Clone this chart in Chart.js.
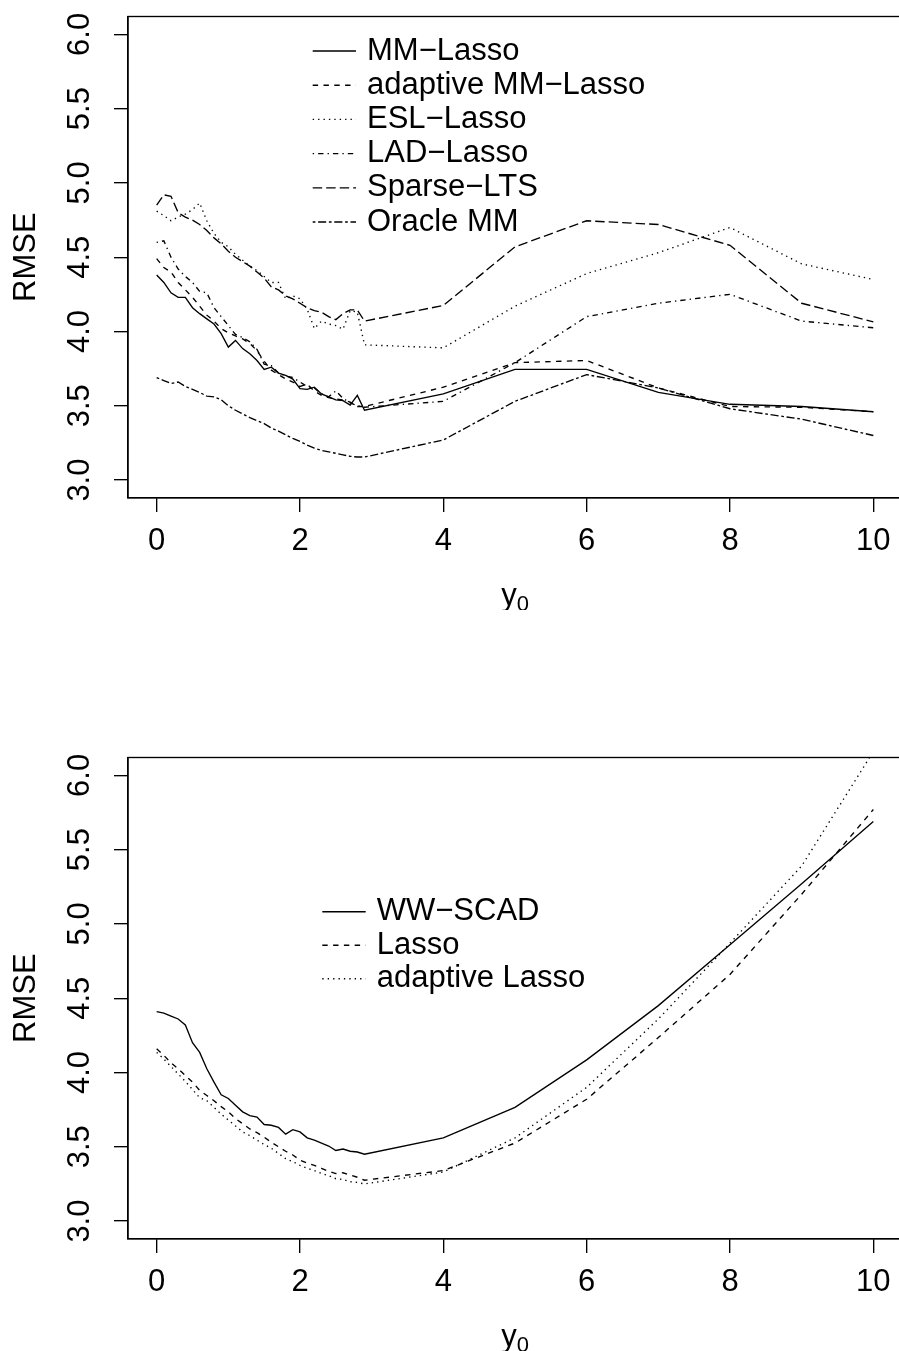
<!DOCTYPE html>
<html><head><meta charset="utf-8">
<script src="https://cdn.jsdelivr.net/npm/chart.js@4.4.1/dist/chart.umd.min.js"></script>
<style>
html,body{margin:0;padding:0;background:#fff;width:899px;height:1351px;overflow:hidden;}
canvas{position:absolute;left:0;}
#c1{top:0;} #c2{top:741px;}
</style></head><body>
<canvas id="c1" width="920" height="610"></canvas>
<canvas id="c2" width="920" height="610"></canvas>
<script>
// ---- data ----
const y0Values = [0,0.1,0.2,0.3,0.4,0.5,0.6,0.7,0.8,0.9,1.0,1.1,1.2,1.3,1.4,1.5,1.6,1.7,1.8,1.9,2.0,2.1,2.2,2.3,2.4,2.5,2.6,2.7,2.8,2.9,4,5,6,7,8,9,10];
const xTicks = [0,2,4,6,8,10];
const yTicks = [3.0,3.5,4.0,4.5,5.0,5.5,6.0];
const yTickLabels = ['3.0','3.5','4.0','4.5','5.0','5.5','6.0'];

// top panel
const mmLasso = [4.38,4.33,4.26,4.23,4.23,4.16,4.12,4.085,4.05,3.985,3.895,3.94,3.885,3.85,3.805,3.745,3.76,3.72,3.705,3.68,3.615,3.61,3.625,3.58,3.56,3.54,3.535,3.505,3.57,3.47,3.58,3.745,3.745,3.59,3.51,3.495,3.46];
const adaptiveMMLasso = [4.49,4.43,4.40,4.33,4.28,4.23,4.17,4.11,4.07,4.02,3.99,3.97,3.95,3.92,3.87,3.80,3.74,3.71,3.68,3.66,3.63,3.645,3.60,3.57,3.555,3.545,3.54,3.525,3.495,3.495,3.625,3.79,3.805,3.62,3.495,3.49,3.46];
const eslLasso = [4.81,4.78,4.745,4.77,4.79,4.82,4.865,4.745,4.66,4.60,4.57,4.52,4.48,4.44,4.41,4.37,4.33,4.33,4.22,4.24,4.22,4.15,4.02,4.07,4.05,4.04,4.015,4.14,4.13,3.91,3.89,4.17,4.39,4.53,4.70,4.455,4.35];
const ladLasso = [4.60,4.61,4.50,4.42,4.37,4.33,4.27,4.26,4.16,4.10,4.04,3.98,3.96,3.93,3.88,3.78,3.77,3.72,3.70,3.69,3.66,3.63,3.62,3.58,3.56,3.60,3.55,3.52,3.50,3.49,3.53,3.79,4.10,4.19,4.25,4.07,4.025];
const sparseLTS = [4.85,4.92,4.91,4.80,4.77,4.75,4.72,4.68,4.63,4.59,4.54,4.50,4.47,4.44,4.40,4.36,4.30,4.28,4.24,4.22,4.19,4.16,4.14,4.13,4.10,4.08,4.12,4.145,4.145,4.07,4.175,4.57,4.745,4.72,4.58,4.19,4.065];
const oracleMM = [3.69,3.67,3.65,3.66,3.63,3.61,3.59,3.565,3.56,3.54,3.50,3.47,3.445,3.42,3.40,3.38,3.35,3.33,3.305,3.28,3.26,3.235,3.215,3.20,3.19,3.18,3.17,3.16,3.155,3.155,3.27,3.53,3.71,3.62,3.48,3.41,3.30];

// bottom panel
const wwScad = [4.41,4.40,4.38,4.36,4.32,4.20,4.135,4.025,3.935,3.85,3.825,3.78,3.735,3.71,3.70,3.65,3.645,3.63,3.585,3.615,3.60,3.56,3.545,3.525,3.505,3.475,3.485,3.47,3.465,3.45,3.56,3.765,4.085,4.45,4.86,5.27,5.69];
const lasso = [4.16,4.115,4.065,4.025,3.98,3.935,3.88,3.845,3.81,3.77,3.735,3.69,3.655,3.62,3.595,3.565,3.53,3.50,3.47,3.445,3.41,3.39,3.375,3.355,3.335,3.32,3.325,3.31,3.295,3.275,3.34,3.525,3.82,4.235,4.66,5.20,5.77];
const adaptiveLasso = [4.135,4.09,4.04,3.99,3.94,3.885,3.83,3.81,3.765,3.72,3.68,3.64,3.60,3.575,3.545,3.515,3.49,3.455,3.42,3.40,3.375,3.355,3.34,3.32,3.305,3.285,3.28,3.265,3.26,3.25,3.33,3.56,3.90,4.36,4.87,5.39,6.16];

const topLabels = ['MM\u2212Lasso','adaptive MM\u2212Lasso','ESL\u2212Lasso','LAD\u2212Lasso','Sparse\u2212LTS','Oracle MM'];
const bottomLabels = ['WW\u2212SCAD','Lasso','adaptive Lasso'];

// ---- styling ----
const FONT = '"Liberation Sans", Arial, Helvetica, sans-serif';
const FS = 31;
const LW = 1.35;
const U = 1.35;
const DASH = {
  solid: [], dashed: [4*U,4*U], dotted: [1*U,3*U], dotdash: [1*U,3*U,4*U,3*U],
  longdash: [7*U,3*U], twodash: [2*U,2*U,6*U,2*U]
};

function pts(vals){ return y0Values.map((x,i)=>({x:x, y:vals[i]})); }
function ds(label, vals, dash){
  return {label, data: pts(vals), borderColor:'#000', borderWidth: LW, borderDash: dash,
          pointRadius:0, tension:0, fill:false};
}

const rStyle = {
  id: 'rStyle',
  afterDraw(chart, args, o) {
    const {ctx, chartArea: a} = chart;
    ctx.save();
    ctx.strokeStyle = '#000'; ctx.fillStyle = '#000';
    ctx.lineWidth = LW; ctx.setLineDash([]);
    ctx.strokeRect(a.left, a.top, a.right - a.left, a.bottom - a.top);
    ctx.font = FS + 'px ' + FONT;
    // y title
    ctx.save();
    ctx.translate(o.yTitleX, (a.top + a.bottom) / 2);
    ctx.rotate(-Math.PI / 2);
    ctx.textAlign = 'center'; ctx.textBaseline = 'middle';
    ctx.fillText('RMSE', 0, 0);
    ctx.restore();
    // x title: y with subscript 0
    const cx = (a.left + a.right) / 2;
    ctx.font = FS + 'px ' + FONT;
    const wY = ctx.measureText('y').width;
    const subFS = Math.round(FS * 0.7);
    ctx.font = subFS + 'px ' + FONT;
    const w0 = ctx.measureText('0').width;
    const x0 = cx - (wY + w0) / 2;
    ctx.textAlign = 'left'; ctx.textBaseline = 'alphabetic';
    ctx.font = FS + 'px ' + FONT;
    ctx.fillText('y', x0, o.xTitleBase);
    ctx.font = subFS + 'px ' + FONT;
    ctx.fillText('0', x0 + wY, o.xTitleBase + 5.5);
    // legend
    ctx.font = FS + 'px ' + FONT;
    ctx.textBaseline = 'middle';
    chart.data.datasets.forEach((d, i) => {
      const y = o.legY + i * o.legStep;
      ctx.beginPath();
      ctx.lineWidth = d.borderWidth;
      ctx.setLineDash(d.borderDash || []);
      ctx.moveTo(o.legX1, y); ctx.lineTo(o.legX2, y); ctx.stroke();
      ctx.setLineDash([]);
      ctx.fillText(d.label, o.legTX, y);
    });
    ctx.restore();
  }
};

function noPad(s){ s.paddingTop = 0; s.paddingBottom = 0; s.paddingLeft = 0; s.paddingRight = 0; }

function makeChart(id, datasets, legendOpts){
  const H = 610;
  return new Chart(document.getElementById(id), {
    type: 'line',
    data: { datasets },
    plugins: [rStyle],
    options: {
      responsive: false, animation: false, devicePixelRatio: 1,
      layout: { padding: { top: 16.5, right: 18, left: 0, bottom: 0 } },
      plugins: { legend: {display:false}, tooltip: {enabled:false},
        rStyle: Object.assign({ yTitleX: 26, xTitleBase: 605 }, legendOpts) },
      scales: {
        x: {
          type: 'linear', min: -0.4, max: 10.4,
          afterBuildTicks: s => { s.ticks = xTicks.map(v => ({value: v})); },
          afterFit: s => { s.height = H - 497.9; noPad(s); },
          grid: { drawOnChartArea: false, drawTicks: true, tickLength: 14, color: '#000', lineWidth: LW },
          border: { display: true, color: '#000', width: LW },
          ticks: { autoSkip: false, maxRotation: 0, minRotation: 0, padding: 11, color: '#000',
                   font: { family: FONT, size: FS }, callback: (v, i) => String(xTicks[i]) }
        },
        y: {
          type: 'linear', min: 2.88, max: 6.12,
          afterBuildTicks: s => { s.ticks = yTicks.map(v => ({value: v})); },
          afterFit: s => { s.width = 128; noPad(s); },
          grid: { drawOnChartArea: false, drawTicks: true, tickLength: 14, color: '#000', lineWidth: LW },
          border: { display: true, color: '#000', width: LW },
          ticks: { autoSkip: false, minRotation: 90, maxRotation: 90, crossAlign: 'center', padding: 12,
                   color: '#000', font: { family: FONT, size: FS }, callback: (v, i) => yTickLabels[i] }
        }
      }
    }
  });
}

makeChart('c1', [
  ds(topLabels[0], mmLasso, DASH.solid),
  ds(topLabels[1], adaptiveMMLasso, DASH.dashed),
  ds(topLabels[2], eslLasso, DASH.dotted),
  ds(topLabels[3], ladLasso, DASH.dotdash),
  ds(topLabels[4], sparseLTS, DASH.longdash),
  ds(topLabels[5], oracleMM, DASH.twodash)
], { legX1: 312.7, legX2: 356, legTX: 367, legY: 51, legStep: 34.2 });

makeChart('c2', [
  ds(bottomLabels[0], wwScad, DASH.solid),
  ds(bottomLabels[1], lasso, DASH.dashed),
  ds(bottomLabels[2], adaptiveLasso, DASH.dotted)
], { legX1: 322.3, legX2: 365.7, legTX: 376.7, legY: 170.7, legStep: 33.5 });
</script>
</body></html>
